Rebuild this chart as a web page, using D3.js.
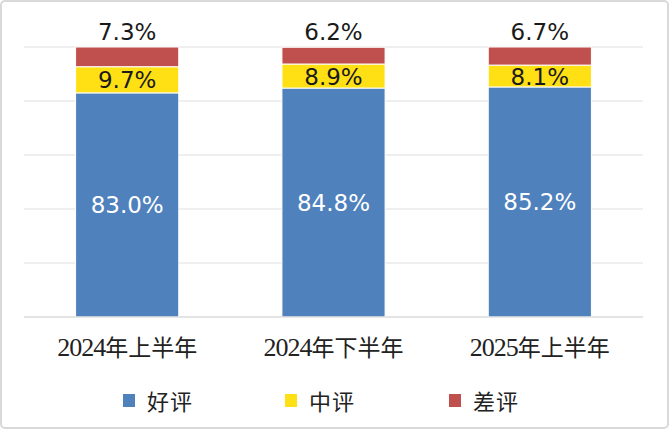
<!DOCTYPE html>
<html><head><meta charset="utf-8">
<script src="https://cdn.jsdelivr.net/npm/d3@7"></script>
<style>
html,body{margin:0;padding:0;background:#fff;}
svg{display:block;}
</style></head>
<body>
<svg id="c" width="669" height="429"></svg>
<script>
const categories = ["2024年上半年", "2024年下半年", "2025年上半年"];
const seriesNames = ["好评", "中评", "差评"];
const good = [83.0, 84.8, 85.2];
const neutral = [9.7, 8.9, 8.1];
const bad = [7.3, 6.2, 6.7];
const yTicks = [0, 20, 40, 60, 80, 100];
const colors = ["#4f81bd", "#ffe014", "#c0504d"];

const svg = d3.select("#c");
const W = 669, H = 429;
svg.append("rect").attr("x",1).attr("y",1).attr("width",W-2).attr("height",H-2)
  .attr("rx",4).attr("fill","#fff").attr("stroke","#d9d9d9").attr("stroke-width",2);

const m = {left:24, right:26, top:47, bottom:112};
const x = d3.scaleBand().domain(categories).range([m.left, W-m.right]).paddingInner(0.5).paddingOuter(0.25);
const y = d3.scaleLinear().domain([0,100]).range([H-m.bottom, m.top]);

const g = svg.append("g");
g.selectAll("line.grid").data(yTicks).join("line")
  .attr("x1", m.left).attr("x2", W-m.right)
  .attr("y1", d=>y(d)).attr("y2", d=>y(d))
  .attr("stroke", "#e0e0e0").attr("stroke-width", 1.2);

const rows = categories.map((c,i)=>({cat:c, vals:[good[i], neutral[i], bad[i]]}));
const stackData = rows.map(r=>{ const o={cat:r.cat}; seriesNames.forEach((s,j)=>o[s]=r.vals[j]); return o;});
const stack = d3.stack().keys(seriesNames)(stackData);

stack.forEach((layer, j)=>{
  g.selectAll(null).data(layer).join("rect")
    .attr("x", d=>x(d.data.cat)).attr("width", x.bandwidth())
    .attr("y", d=>y(d[1])).attr("height", d=>y(d[0])-y(d[1]))
    .attr("fill", colors[j]).attr("stroke","#fff").attr("stroke-width",1);
});

const lf = "'DejaVu Sans', sans-serif";
stack.forEach((layer, j)=>{
  g.selectAll(null).data(layer).join("text")
    .attr("x", d=>x(d.data.cat)+x.bandwidth()/2)
    .attr("y", d=> j===2 ? y(d[1]) - 7 : (y(d[0])+y(d[1]))/2 + 8.5)
    .attr("text-anchor","middle")
    .attr("font-family", lf).attr("font-size", 23)
    .attr("fill", j===0 ? "#fff" : "#1a1a1a")
    .text(d=> (d[1]-d[0]).toFixed(1) + "%");
});

// x axis
g.append("line").attr("x1", m.left).attr("x2", W-m.right).attr("y1", y(0)).attr("y2", y(0))
  .attr("stroke","#d9d9d9").attr("stroke-width",1.2);
const cl = g.selectAll("text.cat").data(categories).join("text").attr("class","cat")
  .attr("x", d=>x(d)+x.bandwidth()/2).attr("y", 356)
  .attr("text-anchor","middle").attr("fill","#222");
cl.append("tspan").attr("font-family","'Liberation Serif',serif").attr("font-size",26)
  .attr("letter-spacing",-1).text(d=>d.slice(0,4));
cl.append("tspan").attr("font-family","'Noto Sans CJK SC',sans-serif").attr("font-size",23)
  .text(d=>d.slice(4));

// legend
const legX = [123, 285, 449];
const lg = svg.append("g");
seriesNames.forEach((s,j)=>{
  lg.append("rect").attr("x", legX[j]).attr("y", 394).attr("width", 12).attr("height", 13).attr("fill", colors[j]);
  lg.append("text").attr("x", legX[j]+24).attr("y", 410).attr("font-family","'Noto Sans CJK SC',sans-serif")
    .attr("font-size", 22).attr("letter-spacing",1).attr("fill","#222").text(s);
});
</script>
</body></html>
